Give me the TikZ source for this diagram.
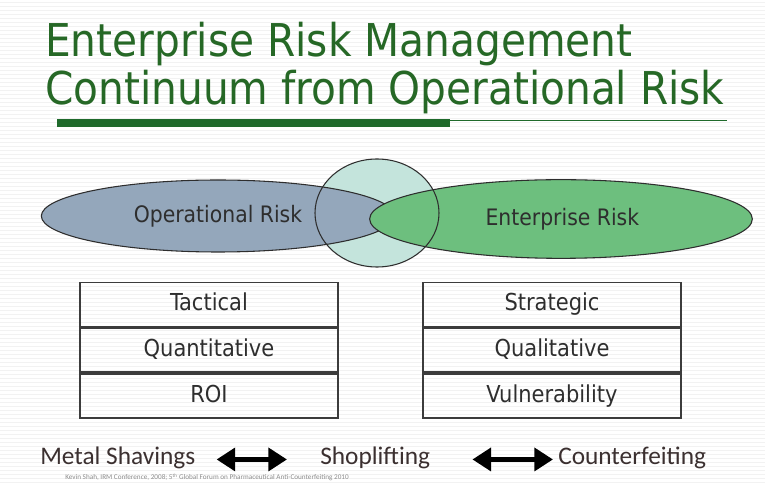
\documentclass[tikz,border=0pt]{standalone}
\usepackage{fontspec}
\setsansfont{DejaVu Sans Condensed}
\newfontfamily\calfont{Carlito}
\usetikzlibrary{arrows.meta,positioning,shapes.geometric}

\definecolor{titlegreen}{HTML}{266826}
\definecolor{bargreen}{HTML}{1F6A2B}
\definecolor{opfill}{HTML}{94A7BB}
\definecolor{midfill}{HTML}{C4E4DC}
\definecolor{entfill}{HTML}{6DBF7E}
\definecolor{inkgray}{HTML}{2E2E2E}
\definecolor{rulegray}{HTML}{3C3C3C}
\definecolor{footbrown}{HTML}{3B3030}

\begin{document}
\begin{tikzpicture}[x=0.75pt,y=-0.75pt]
\tikzset{
  titleline/.style={anchor=base west,inner sep=0pt,text=titlegreen,font=\sffamily\fontsize{33.9}{36}\selectfont},
  blob/.style={ellipse,inner sep=0pt,line width=0.8pt,draw=inkgray,text=inkgray,font=\sffamily\fontsize{17}{20}\selectfont},
  opblob/.style={blob,fill=opfill,minimum width=265pt,minimum height=54pt},
  entblob/.style={blob,fill=entfill,minimum width=287pt,minimum height=59pt},
  midblob/.style={ellipse,inner sep=0pt,minimum width=93pt,minimum height=81pt},
  cell/.style={rectangle,draw=rulegray,line width=1.3pt,minimum width=193.5pt,minimum height=33pt,inner sep=0pt,text height=13pt,text depth=3.5pt,text=inkgray,font=\sffamily\fontsize{17.5}{20}\selectfont},
  chainword/.style={anchor=base west,inner sep=0pt,text=footbrown,font=\calfont\fontsize{19}{22}\selectfont},
  twoway/.style={line width=4.4pt,{Triangle[length=14pt,width=17pt]}-{Triangle[length=14pt,width=17pt]}}
}
\useasboundingbox (0,0) rectangle (765,484);
% faint striped backdrop
\fill[white] (0,0) rectangle (765,484);
\foreach \y in {2,6,...,482}
  \draw[black!5,line width=0.6pt] (0,\y) -- (765,\y);

% title
\node[titleline] (head1) at (45,57) {Enterprise Risk Management};
\node[titleline] (head2) at (45,105) {Continuum from Operational Risk};
\fill[bargreen] (57,119) rectangle (450,127);
\draw[bargreen,line width=1.2pt] (450,120.5) -- (727,120.5);

% the three blobs
\node[midblob,fill=midfill] (overlap) at (377,213) {};
\node[opblob] (oprisk) at (218,216) {Operational Risk};
\node[entblob] (entrisk) at (561,219) {\hspace*{2pt}Enterprise Risk};
\node[midblob,draw=inkgray,line width=0.8pt] (overlaprim) at (overlap) {};

% two tables
\node[cell] (tactical) at (209,304.5) {Tactical};
\node[cell,below=0pt of tactical] (quantitative) {Quantitative};
\node[cell,below=0pt of quantitative] (roi) {ROI};
\node[cell] (strategic) at (552,304.5) {Strategic};
\node[cell,below=0pt of strategic] (qualitative) {Qualitative};
\node[cell,below=0pt of qualitative] (vulnerability) {Vulnerability};

% bottom chain
\node[chainword] (metal) at (40,465) {Metal Shavings};
\node[chainword] (shoplift) at (320,465) {Shoplifting};
\node[chainword] (counterfeit) at (558,465) {Counterfeiting};
\draw[twoway] ([xshift=15.75pt,yshift=2pt]metal.mid east) -- ([xshift=-24.75pt,yshift=2pt]shoplift.mid west);
\draw[twoway] ([xshift=31.5pt,yshift=2pt]shoplift.mid east) -- ([xshift=-3.75pt,yshift=2pt]counterfeit.mid west);

\node[anchor=base west,inner sep=0pt,text=black!45,font=\calfont\fontsize{5.4}{6}\selectfont] (source) at (65,480) {Kevin Shah, IRM Conference, 2008; 5\textsuperscript{th} Global Forum on Pharmaceutical Anti-Counterfeiting 2010};
\end{tikzpicture}
\end{document}
